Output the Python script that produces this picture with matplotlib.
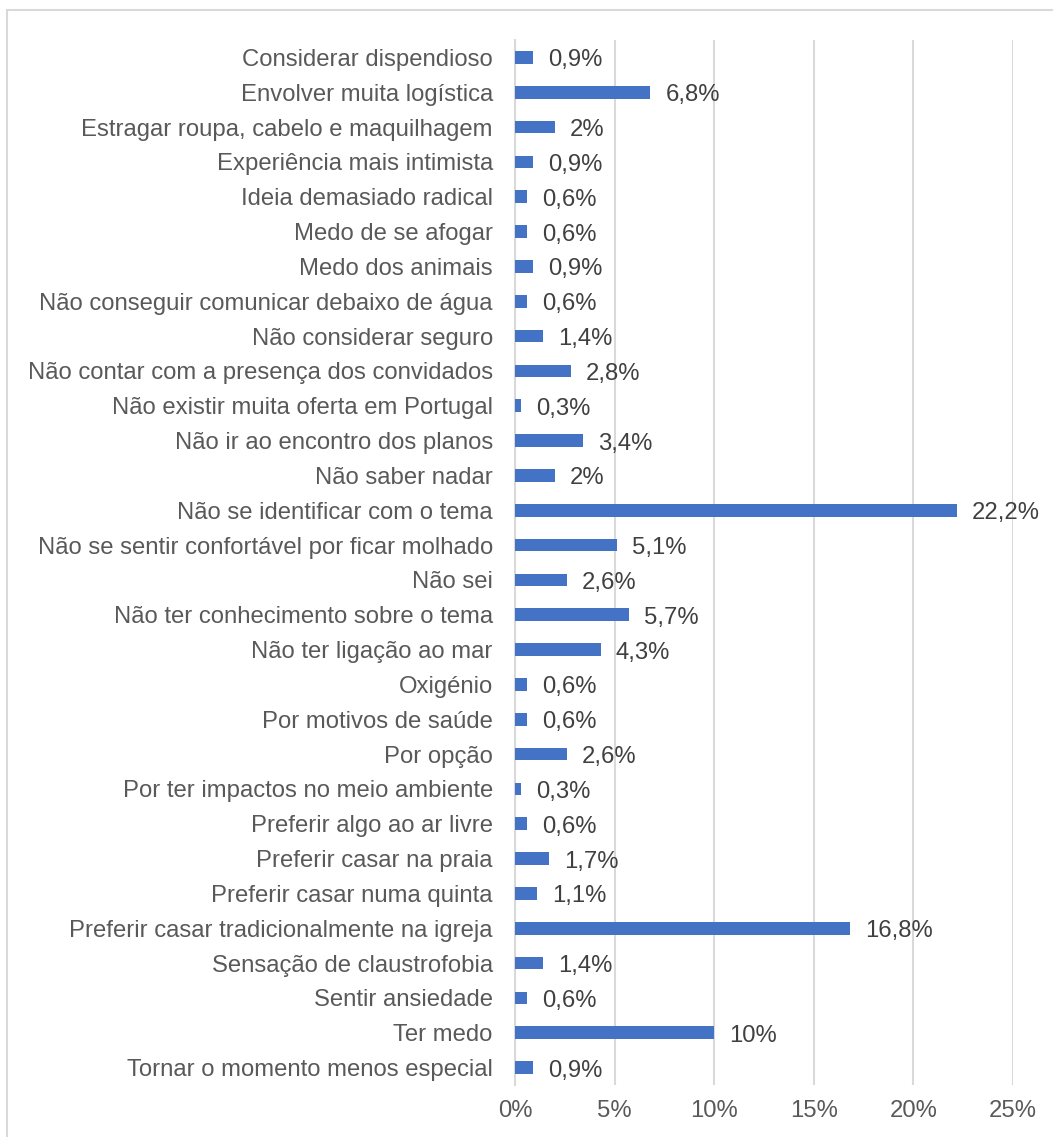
import matplotlib
matplotlib.use("Agg")
import matplotlib.pyplot as plt
from matplotlib.patches import Rectangle

categories = [
    "Considerar dispendioso",
    "Envolver muita logística",
    "Estragar roupa, cabelo e maquilhagem",
    "Experiência mais intimista",
    "Ideia demasiado radical",
    "Medo de se afogar",
    "Medo dos animais",
    "Não conseguir comunicar debaixo de água",
    "Não considerar seguro",
    "Não contar com a presença dos convidados",
    "Não existir muita oferta em Portugal",
    "Não ir ao encontro dos planos",
    "Não saber nadar",
    "Não se identificar com o tema",
    "Não se sentir confortável por ficar molhado",
    "Não sei",
    "Não ter conhecimento sobre o tema",
    "Não ter ligação ao mar",
    "Oxigénio",
    "Por motivos de saúde",
    "Por opção",
    "Por ter impactos no meio ambiente",
    "Preferir algo ao ar livre",
    "Preferir casar na praia",
    "Preferir casar numa quinta",
    "Preferir casar tradicionalmente na igreja",
    "Sensação de claustrofobia",
    "Sentir ansiedade",
    "Ter medo",
    "Tornar o momento menos especial",
]
values = [0.9, 6.8, 2.0, 0.9, 0.6, 0.6, 0.9, 0.6, 1.4, 2.8, 0.3, 3.4, 2.0, 22.2,
          5.1, 2.6, 5.7, 4.3, 0.6, 0.6, 2.6, 0.3, 0.6, 1.7, 1.1, 16.8, 1.4, 0.6,
          10.0, 0.9]
xticks = [0, 5, 10, 15, 20, 25]
xticklabels = ["0%", "5%", "10%", "15%", "20%", "25%"]

plt.rcParams['font.family'] = ['Liberation Sans', 'DejaVu Sans']
FS = 17.2

fig = plt.figure(figsize=(10.53, 11.37), dpi=100)
ax = fig.add_axes([515/1053, 1 - 1085/1137, (1013 - 515)/1053, (1085 - 40)/1137])

ypos = list(range(len(categories)))
ax.barh(ypos, values, height=0.36, color="#4472C4", zorder=3)
ax.set_ylim(len(categories) - 0.5, -0.5)
ax.set_xlim(0, 25)

ax.set_yticks(ypos)
ax.set_yticklabels(categories, fontsize=FS, color="#595959")
ax.set_xticks(xticks)
ax.set_xticklabels(xticklabels, fontsize=FS, color="#595959")
ax.tick_params(axis="both", length=0)
ax.tick_params(axis="y", pad=16)
ax.tick_params(axis="x", pad=11)

ax.grid(axis="x", color="#d9d9d9", linewidth=1.5, zorder=0)
for s in ["top", "right", "bottom"]:
    ax.spines[s].set_visible(False)
ax.spines["left"].set_color("#d9d9d9")
ax.spines["left"].set_linewidth(1.5)

for y, v in zip(ypos, values):
    txt = (f"{v:.1f}" if abs(v - round(v)) > 1e-9 else f"{int(round(v))}").replace(".", ",") + "%"
    ax.annotate(txt, (v, y), xytext=(15, -3), textcoords="offset pixels",
                va="center", ha="left", fontsize=FS, color="#404040")

fig.patches.append(Rectangle((7/1053, -0.05), 1.1, 1 - 10/1137 + 0.05,
                             transform=fig.transFigure, fill=False,
                             edgecolor="#d9d9d9", linewidth=1.5))

fig.savefig("out.png", dpi=100)
